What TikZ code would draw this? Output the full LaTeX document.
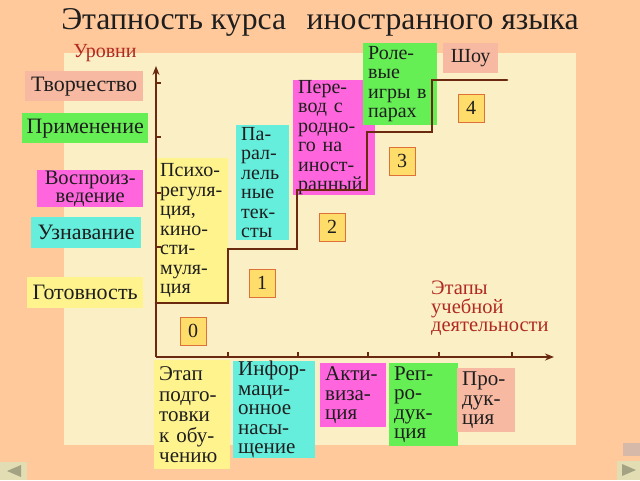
\documentclass[tikz,border=0pt]{standalone}
\usepackage{fontspec}
\setmainfont{Liberation Serif}
\usetikzlibrary{arrows.meta}
\definecolor{bgpeach}{HTML}{FFC99B}
\definecolor{panel}{HTML}{FBEFC6}
\definecolor{cyel}{HTML}{FFF38E}
\definecolor{cgreen}{HTML}{66EE55}
\definecolor{cmag}{HTML}{FF66DD}
\definecolor{cturq}{HTML}{66EEDD}
\definecolor{csalm}{HTML}{F7B9A2}
\definecolor{numfill}{HTML}{FFDD6A}
\definecolor{numdraw}{HTML}{E0703A}
\definecolor{axisc}{HTML}{6B2A10}
\definecolor{redtext}{HTML}{B02A22}
\definecolor{txt}{HTML}{1E1E1E}
\definecolor{navbg}{HTML}{E2DDB2}
\definecolor{navtri}{HTML}{A3A283}
\definecolor{navgrey}{HTML}{D6B9A8}
\begin{document}
\begin{tikzpicture}[x=1pt,y=-1pt,
  stagebox/.style={anchor=north west, inner xsep=5pt, inner ysep=0pt, align=left,
    text=txt, font=\fontsize{20}{19.5}\selectfont},
  levelbox/.style={anchor=north west, inner sep=0pt, align=center,
    text=txt, font=\fontsize{22}{22}\selectfont},
  numbox/.style={draw=numdraw, fill=numfill, line width=1pt, minimum width=26pt,
    minimum height=28pt, inner sep=0pt, text=txt, font=\fontsize{20}{20}\selectfont},
  axisline/.style={draw=axisc, line width=2.6pt},
  tick/.style={draw=axisc, line width=1.6pt},
  redlabel/.style={text=redtext, inner sep=0pt}
]
% background and panel
\fill[bgpeach] (0,0) rectangle (640,480);
\fill[panel] (64,53) rectangle (576,445);
\useasboundingbox (0,0) rectangle (640,480);

% title
\node[text=txt, font=\fontsize{31.7}{31.7}\selectfont, inner sep=0pt] (title) at (320,22)
  {Этапность курса\hspace{0.4em} иностранного языка};
\node[redlabel, font=\fontsize{20}{20}\selectfont] (levels) at (105,53) {Уровни};

% level labels
\node[levelbox, fill=csalm, minimum width=118pt, minimum height=30pt] (l5) at (25,71) {Творчество};
\node[levelbox, fill=cgreen, minimum width=126pt, minimum height=30pt] (l4) at (22,113) {Применение};
\node[levelbox, fill=cmag, minimum width=106pt, minimum height=37pt, font=\fontsize{20.5}{18.5}\selectfont] (l3) at (37,170) {Воспроиз-\\ведение};
\node[levelbox, fill=cturq, minimum width=110pt, minimum height=31pt] (l2) at (31,217) {Узнавание};
\node[levelbox, fill=cyel, minimum width=116pt, minimum height=31pt] (l1) at (27,277) {Готовность};

% stage boxes in the chart
\node[stagebox, fill=cyel, minimum width=73pt, minimum height=145pt, text width=63pt] (psy) at (155,158)
  {Психо-\\регуля-\\ция,\\кино-\\сти-\\муля-\\ция};
\node[stagebox, fill=cturq, minimum width=53pt, minimum height=115pt, text width=43pt] (par) at (236,125)
  {Па-\\рал-\\лель\\ные\\тек-\\сты};
\node[stagebox, fill=cmag, minimum width=82pt, minimum height=112pt, text width=72pt] (per) at (293,80)
  {Пере-\\вод с\\родно-\\го на\\иност-\\ранный};
\node[stagebox, fill=cgreen, minimum width=74pt, minimum height=82pt, text width=64pt] (role) at (363,43)
  {Роле-\\вые\\игры в\\парах};
\node[stagebox, fill=csalm, minimum width=55pt, minimum height=30pt, text width=45pt, align=center] (show) at (443,43)
  {Шоу};

% axes
\coordinate (O) at (156,357);
\coordinate (ytop) at (156,66);
\coordinate (xend) at (554,357);
\draw[axisline, -{Stealth[length=9pt,width=7pt]}] (O) -- (ytop);
\draw[axisline, -{Stealth[length=9pt,width=7pt]}] (O) -- (xend);
\foreach \yy in {83,137,193,247}
  \draw[tick] (156,\yy) -- (161,\yy);
\foreach \xx in {228,298,368,439,512}
  \draw[tick] (\xx,357) -- (\xx,352);

% step line
\coordinate (s0) at (156,303);
\coordinate (s1) at (228,303);
\coordinate (s2) at (228,249);
\coordinate (s3) at (297,249);
\coordinate (s4) at (297,190);
\coordinate (s5) at (367,190);
\coordinate (s6) at (367,132);
\coordinate (s7) at (432,132);
\coordinate (s8) at (432,80);
\coordinate (s9) at (507,80);
\draw[axisline, line width=2.8pt, line cap=round] (s0) -- (s1) -- (s2) -- (s3) -- (s4) -- (s5) -- (s6) -- (s7) -- (s8) -- (s9);

% number boxes
\node[numbox] (n0) at (193,331) {0};
\node[numbox] (n1) at (262,283) {1};
\node[numbox] (n2) at (332,227) {2};
\node[numbox] (n3) at (402,161) {3};
\node[numbox] (n4) at (471,108) {4};

% x-axis label
\node[redlabel, anchor=north west, align=left, font=\fontsize{20.5}{18.5}\selectfont] (stages) at (431,281)
  {Этапы\\учебной\\деятельности};

% bottom stage boxes
\node[stagebox, fill=cyel, minimum width=76pt, minimum height=109pt, text width=66pt, font=\fontsize{21}{20.5}\selectfont] (etap) at (154,360)
  {Этап\\подго-\\товки\\к обу-\\чению};
\node[stagebox, fill=cturq, minimum width=82pt, minimum height=96pt, text width=72pt, font=\fontsize{21}{19.5}\selectfont] (info) at (233,361)
  {Инфор-\\маци-\\онное\\насы-\\щение};
\node[stagebox, fill=cmag, minimum width=66pt, minimum height=64pt, text width=56pt, font=\fontsize{21}{19.5}\selectfont] (akt) at (320,363)
  {Акти-\\виза-\\ция};
\node[stagebox, fill=cgreen, minimum width=69pt, minimum height=83pt, text width=59pt, font=\fontsize{21}{19.5}\selectfont] (rep) at (389,363)
  {Реп-\\ро-\\дук-\\ция};
\node[stagebox, fill=csalm, minimum width=58pt, minimum height=64pt, text width=48pt, font=\fontsize{21}{19.5}\selectfont] (prod) at (457,368)
  {Про-\\дук-\\ция};

% navigation buttons
\fill[navgrey] (623,443) rectangle (640,456);
\fill[navbg] (0,462) rectangle (27,480);
\fill[navtri] (7,471) -- (21,465) -- (21,477) -- cycle;
\fill[navbg] (617,461) rectangle (640,480);
\fill[navtri] (622,464) -- (636,470) -- (622,476) -- cycle;
\end{tikzpicture}
\end{document}
